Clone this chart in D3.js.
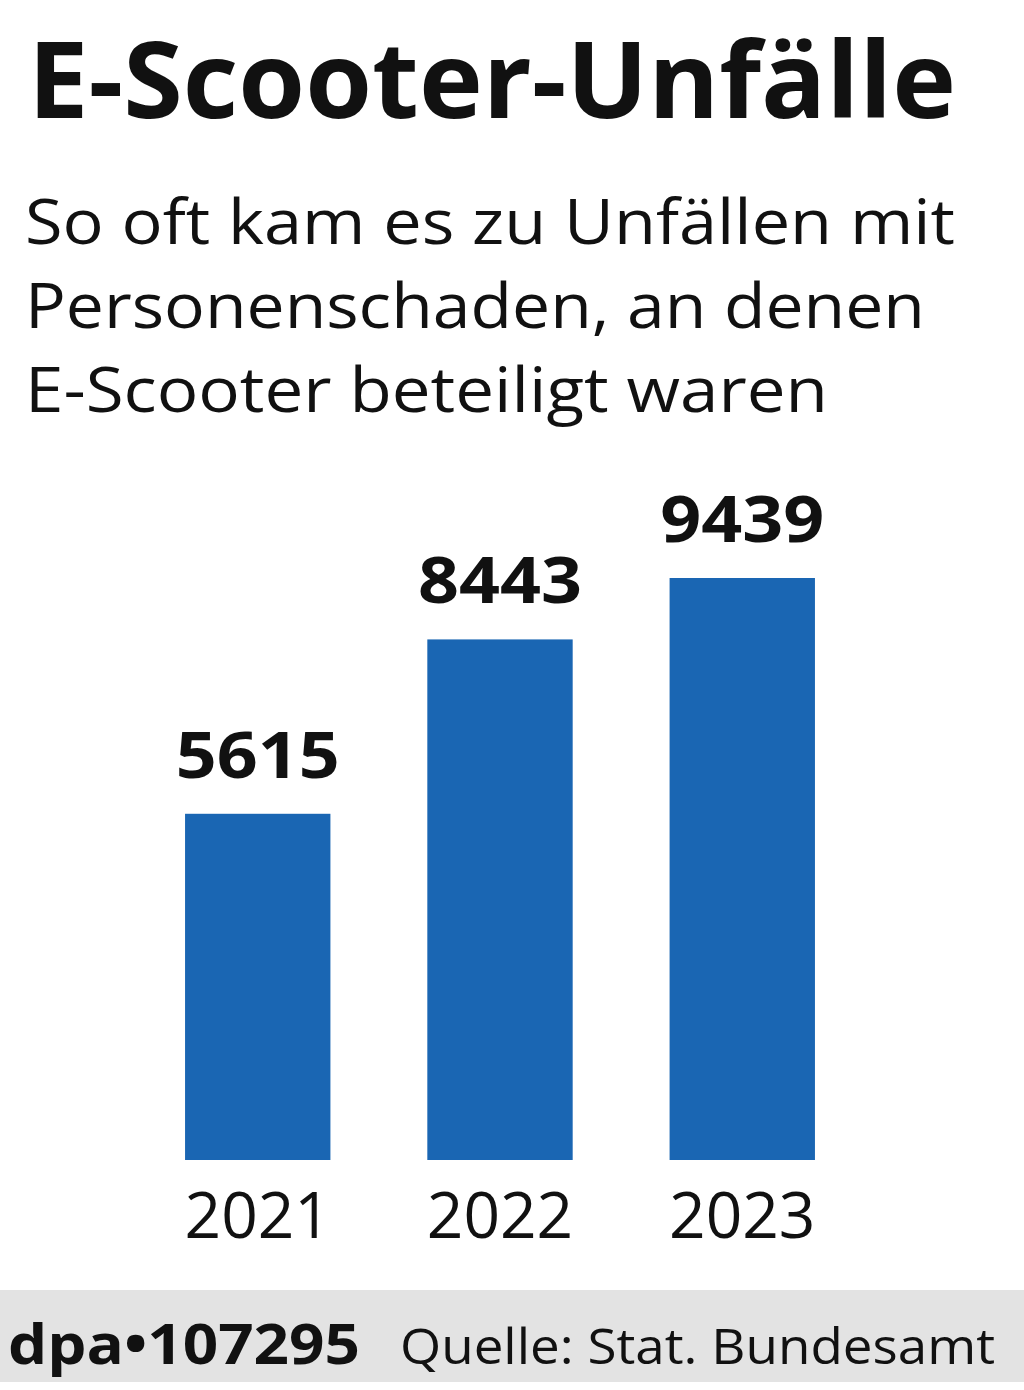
<!DOCTYPE html>
<html><head><meta charset="utf-8">
<script src="https://cdn.jsdelivr.net/npm/d3@7"></script>
<style>body{margin:0;background:#fff}</style></head>
<body><svg id="c" width="1024" height="1390"></svg>
<script>
const years = ["2021","2022","2023"];
const values = [5615, 8443, 9439];
const title = "E-Scooter-Unfälle";
const subtitle = ["So oft kam es zu Unfällen mit","Personenschaden, an denen","E-Scooter beteiligt waren"];
const svg = d3.select("#c");
const F = "'Open Sans', Lato, sans-serif";
svg.append("text").attr("x",28).attr("y",118).attr("font-family",F).attr("font-weight",700)
  .attr("font-size",106).attr("textLength",928).attr("lengthAdjust","spacingAndGlyphs").attr("fill","#111").text(title);
const subW=[930,900,803];
subtitle.forEach((s,i)=>svg.append("text").attr("x",25).attr("y",244+i*84).attr("font-family",F)
  .attr("font-size",62).attr("textLength",subW[i]).attr("lengthAdjust","spacingAndGlyphs").attr("fill","#111").text(s));
const x = d3.scaleBand().domain(years).range([136.6,863.4]).paddingInner(0.4).paddingOuter(0.2);
const y = d3.scaleLinear().domain([0,9439]).range([1160,578]);
svg.selectAll("rect.b").data(values).join("rect").attr("class","b")
  .attr("x",(d,i)=>x(years[i])).attr("width",x.bandwidth()).attr("y",d=>y(d)).attr("height",d=>y(0)-y(d)).attr("fill","#1a66b3");
svg.selectAll("text.v").data(values).join("text").attr("class","v")
  .attr("x",(d,i)=>x(years[i])+x.bandwidth()/2).attr("y",d=>y(d)-36).attr("text-anchor","middle")
  .attr("font-family",F).attr("font-weight",700).attr("font-size",64).attr("textLength",164).attr("lengthAdjust","spacingAndGlyphs").attr("fill","#111").text(d=>d);
const xa = svg.append("g").attr("transform","translate(0,1160)").call(d3.axisBottom(x).tickSize(0).tickPadding(0));
xa.select(".domain").remove();
xa.selectAll("text").attr("y",78).attr("dy",0).attr("font-family",F).attr("font-size",64).attr("fill","#111");
svg.append("rect").attr("x",0).attr("y",1290).attr("width",1024).attr("height",92).attr("fill","#e3e3e3");
svg.append("text").attr("x",8).attr("y",1364).attr("font-family",F).attr("font-weight",700).attr("font-size",56)
  .attr("textLength",352).attr("lengthAdjust","spacingAndGlyphs").attr("fill","#111").text("dpa•107295");
svg.append("text").attr("x",400).attr("y",1364).attr("font-family",F).attr("font-size",50)
  .attr("textLength",595).attr("lengthAdjust","spacingAndGlyphs").attr("fill","#111").text("Quelle: Stat. Bundesamt");
</script></body></html>
